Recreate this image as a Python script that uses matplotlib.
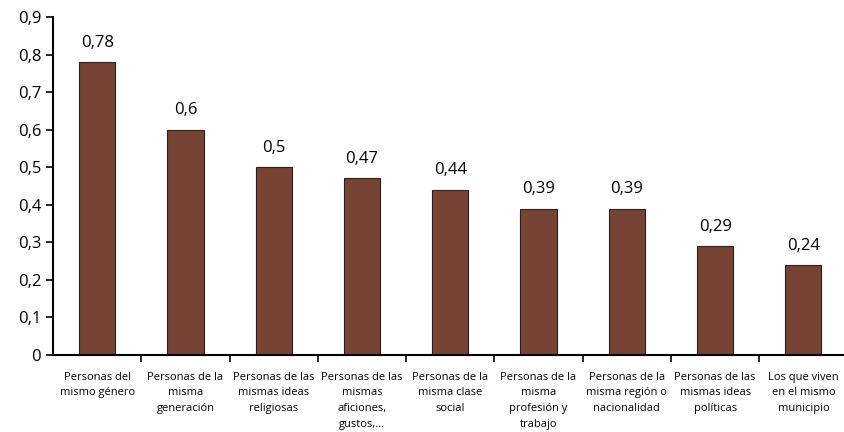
import matplotlib
matplotlib.use("Agg")
import matplotlib.pyplot as plt
from matplotlib.ticker import FixedLocator, FuncFormatter
import numpy as np

categorias = [
    "Personas del\nmismo género",
    "Personas de la\nmisma\ngeneración",
    "Personas de las\nmismas ideas\nreligiosas",
    "Personas de las\nmismas\naficiones,\ngustos,…",
    "Personas de la\nmisma clase\nsocial",
    "Personas de la\nmisma\nprofesión y\ntrabajo",
    "Personas de la\nmisma región o\nnacionalidad",
    "Personas de las\nmismas ideas\npolíticas",
    "Los que viven\nen el mismo\nmunicipio",
]
valores = [0.78, 0.6, 0.5, 0.47, 0.44, 0.39, 0.39, 0.29, 0.24]

plt.rcParams['font.family'] = ['Open Sans', 'DejaVu Sans']

fig = plt.figure(figsize=(8.44, 4.32), dpi=100)
ax = fig.add_axes([53 / 844, 1 - 355 / 432, 791 / 844, 338 / 432])

x = np.arange(len(valores))
ax.bar(x, valores, width=0.41, color="#774335", edgecolor="#222222", linewidth=0.8)

def coma(v):
    s = f"{v:.2f}".rstrip("0").rstrip(".")
    return s.replace(".", ",")

for xi, v in zip(x, valores):
    ax.text(xi, v + 0.03, coma(v), ha="center", va="bottom", fontsize=12)

ax.set_ylim(0, 0.9)
ax.set_xlim(-0.5, 8.46)
ax.set_yticks(np.arange(0, 0.91, 0.1))
ax.yaxis.set_major_formatter(FuncFormatter(lambda v, p: "0" if abs(v) < 1e-9 else f"{v:.1f}".replace(".", ",")))
ax.tick_params(axis="y", labelsize=12, length=5, width=1.2, direction="out")

ax.set_xticks(x)
ax.set_xticklabels(categorias, fontsize=8, linespacing=1.6)
ax.tick_params(axis="x", which="major", length=0, pad=12)
ax.xaxis.set_minor_locator(FixedLocator(np.arange(0.5, 8.5, 1)))
ax.tick_params(axis="x", which="minor", length=5, width=1.2, direction="out")

for s in ["top", "right"]:
    ax.spines[s].set_visible(False)
ax.spines["left"].set_linewidth(1.5)
ax.spines["bottom"].set_linewidth(1.5)

fig.savefig("out.png", dpi=100)
